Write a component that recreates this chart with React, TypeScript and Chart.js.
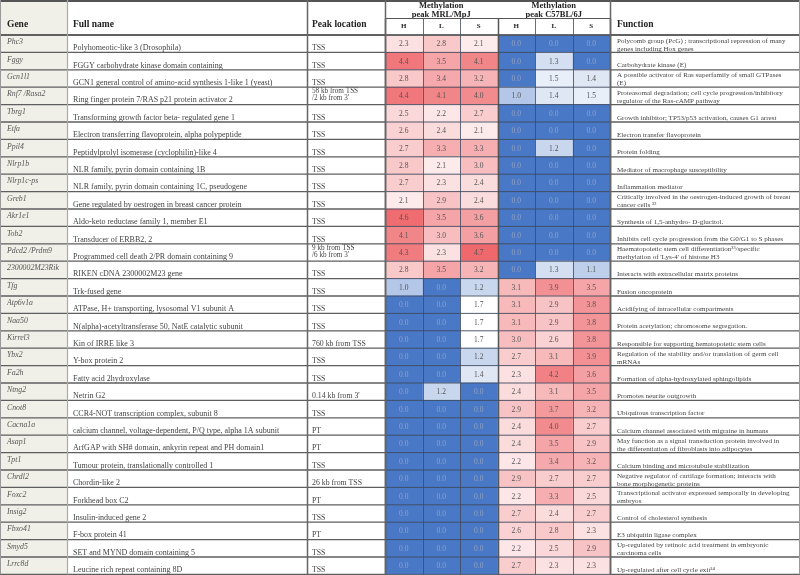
import React, { useEffect, useRef } from "react";
import { Chart, registerables } from "chart.js";

Chart.register(...registerables);

const genes = ["Phc3", "Fggy", "Gcn1l1", "Rnf7 /Rasa2", "Tbrg1", "Etfa", "Ppil4", "Nlrp1b", "Nlrp1c-ps", "Greb1", "Akr1e1", "Tob2", "Pdcd2 /Prdm9", "2300002M23Rik", "Tfg", "Atp6v1a", "Naa50", "Kirrel3", "Ybx2", "Fa2h", "Ntng2", "Cnot8", "Cacna1a", "Asap1", "Tpt1", "Chrdl2", "Foxc2", "Insig2", "Fbxo41", "Smyd5", "Lrrc8d"];

const fullNames = [
  "Polyhomeotic-like 3 (Drosophila)",
  "FGGY carbohydrate kinase domain containing",
  "GCN1 general control of amino-acid synthesis 1-like 1 (yeast)",
  "Ring finger protein 7/RAS p21 protein activator 2",
  "Transforming growth factor beta- regulated gene 1",
  "Electron transferring flavoprotein, alpha polypeptide",
  "Peptidylprolyl isomerase (cyclophilin)-like 4",
  "NLR family, pyrin domain containing 1B",
  "NLR family, pyrin domain containing 1C, pseudogene",
  "Gene regulated by oestrogen in breast cancer protein",
  "Aldo-keto reductase family 1, member E1",
  "Transducer of ERBB2, 2",
  "Programmed cell death 2/PR domain containing 9",
  "RIKEN cDNA 2300002M23 gene",
  "Trk-fused gene",
  "ATPase, H+ transporting, lysosomal V1 subunit A",
  "N(alpha)-acetyltransferase 50, NatE catalytic subunit",
  "Kin of IRRE like 3",
  "Y-box protein 2",
  "Fatty acid 2hydroxylase",
  "Netrin G2",
  "CCR4-NOT transcription complex, subunit 8",
  "calcium channel, voltage-dependent, P/Q type, alpha 1A subunit",
  "ArfGAP with SH# domain, ankyrin repeat and PH domain1",
  "Tumour protein, translationally controlled 1",
  "Chordin-like 2",
  "Forkhead box C2",
  "Insulin-induced gene 2",
  "F-box protein 41",
  "SET and MYND domain containing 5",
  "Leucine rich repeat containing 8D",
];

const peakLocations = [
  "TSS", "TSS", "TSS", "58 kb from TSS\n/2 kb from 3'", "TSS", "TSS", "TSS", "TSS", "TSS", "TSS", "TSS", "TSS",
  "9 kb from TSS\n/6 kb from 3'", "TSS", "TSS", "TSS", "TSS", "760 kb from TSS", "TSS", "TSS", "0.14 kb from 3'",
  "TSS", "PT", "PT", "TSS", "26 kb from TSS", "PT", "TSS", "PT", "TSS", "TSS",
];

const functions = [
  "Polycomb group (PcG) ; transcriptional repression of many\ngenes including Hox genes",
  "Carbohydrate kinase (E)",
  "A possible activator of Ras superfamily of small GTPases\n(E)",
  "Proteasomal degradation; cell cycle progression/inhibitory\nregulator of the Ras-cAMP pathway",
  "Growth inhibitor; TP53/p53 activation, causes G1 arrest",
  "Electron transfer flavoprotein",
  "Protein folding",
  "Mediator of macrophage susceptibility",
  "Inflammation mediator",
  "Critically involved in the oestrogen-induced growth of breast\ncancer cells \u00b3\u00b2",
  "Synthesis of 1,5-anhydro- D-glucitol.",
  "Inhibits cell cycle progression from the G0/G1 to S phases",
  "Haematopoietic stem cell differentiation\u00b3\u00b3/specific\nmethylation of 'Lys-4' of histone H3",
  "Interacts with extracellular matrix proteins",
  "Fusion oncoprotein",
  "Acidifying of intracellular compartments",
  "Protein acetylation; chromosome segregation.",
  "Responsible for supporting hematopoietic stem cells",
  "Regulation of the stability and/or translation of germ cell\nmRNAs",
  "Formation of alpha-hydroxylated sphingolipids",
  "Promotes neurite outgrowth",
  "Ubiquitous transcription factor",
  "Calcium channel associated with migraine in humans",
  "May function as a signal transduction protein involved in\nthe differentiation of fibroblasts into adipocytes",
  "Calcium binding and microtubule stabilization",
  "Negative regulator of cartilage formation; interacts with\nbone morphogenetic proteins",
  "Transcriptional activator expressed temporally in developing\nembryos",
  "Control of cholesterol synthesis",
  "E3 ubiquitin ligase complex",
  "Up-regulated by retinoic acid treatment in embryonic\ncarcinoma cells",
  "Up-regulated after cell cycle exit\u00b3\u2074",
];

const mrlH = [2.3, 4.4, 2.8, 4.4, 2.5, 2.6, 2.7, 2.8, 2.7, 2.1, 4.6, 4.1, 4.3, 2.8, 1.0, 0, 0, 0, 0, 0, 0, 0, 0, 0, 0, 0, 0, 0, 0, 0, 0];
const mrlL = [2.8, 3.5, 3.4, 4.1, 2.2, 2.4, 3.3, 2.1, 2.3, 2.9, 3.5, 3.0, 2.3, 3.5, 0, 0, 0, 0, 0, 0, 1.2, 0, 0, 0, 0, 0, 0, 0, 0, 0, 0];
const mrlS = [2.1, 4.1, 3.2, 4.0, 2.7, 2.1, 3.3, 3.0, 2.4, 2.4, 3.6, 3.6, 4.7, 3.2, 1.2, 1.7, 1.7, 1.7, 1.2, 1.4, 0, 0, 0, 0, 0, 0, 0, 0, 0, 0, 0];
const c57H = [0, 0, 0, 1.0, 0, 0, 0, 0, 0, 0, 0, 0, 0, 0, 3.1, 3.1, 3.1, 3.0, 2.7, 2.3, 2.4, 2.9, 2.4, 2.4, 2.2, 2.9, 2.2, 2.7, 2.6, 2.2, 2.7];
const c57L = [0, 1.3, 1.5, 1.4, 0, 0, 1.2, 0, 0, 0, 0, 0, 0, 1.3, 3.9, 2.9, 2.9, 2.6, 3.1, 4.2, 3.1, 3.7, 4.0, 3.5, 3.4, 2.7, 3.3, 2.4, 2.8, 2.5, 2.3];
const c57S = [0, 0, 1.4, 1.5, 0, 0, 0, 0, 0, 0, 0, 0, 0, 1.1, 3.5, 3.8, 3.8, 3.8, 3.9, 3.6, 3.5, 3.2, 2.7, 2.9, 3.2, 2.7, 2.5, 2.7, 2.3, 2.9, 2.3];

const heatColumns = [mrlH, mrlL, mrlS, c57H, c57L, c57S];
const subLabels = ["H", "L", "S", "H", "L", "S"];
const groupTitles = [["Methylation", "peak MRL/MpJ"], ["Methylation", "peak C57BL/6J"]];
const headers = { gene: "Gene", name: "Full name", peak: "Peak location", func: "Function" };

const FONT = '"Liberation Serif", "Times New Roman", serif';
const X_NAME = 67;
const X_PEAK = 307;
const X_HEAT = 385;
const X_FUNC = 610;
const W = 800;
const H = 575;
const HEADER_H = 35;

const BLUE = [72, 120, 198];
const RED = [238, 104, 108];
const MID = 1.7;
const MAX = 4.7;

function mix(a: number[], b: number[], t: number) {
  const c = a.map((v, i) => Math.round(v + (b[i] - v) * t));
  return `rgb(${c[0]},${c[1]},${c[2]})`;
}
function heatColor(v: number) {
  if (v <= MID) return mix(BLUE, [255, 255, 255], Math.max(0, v / MID));
  return mix([255, 255, 255], RED, Math.min(1, (v - MID) / (MAX - MID)));
}

const tablePlugin = {
  id: "tablePlugin",
  beforeDraw(chart: any) {
    const { ctx, chartArea } = chart;
    ctx.save();
    ctx.fillStyle = "#ffffff";
    ctx.fillRect(0, 0, W, H);
    ctx.fillStyle = "#f1f0e8";
    ctx.fillRect(0, 2, X_NAME, chartArea.bottom - 2);
    ctx.restore();
  },
  afterDatasetsDraw(chart: any) {
    const { ctx, chartArea, scales } = chart;
    const y = scales.y;
    const x = scales.x;
    const n = genes.length;
    const rowH = y.getPixelForValue(1) - y.getPixelForValue(0);
    ctx.save();

    // heat values
    ctx.textAlign = "center";
    ctx.textBaseline = "middle";
    ctx.font = `7.5px ${FONT}`;
    heatColumns.forEach((vals, d) => {
      const meta = chart.getDatasetMeta(d);
      meta.data.forEach((el: any, i: number) => {
        const p = el.getCenterPoint();
        ctx.fillStyle = vals[i] <= 0.5 ? "#93a2c0" : "#555555";
        ctx.fillText(vals[i].toFixed(1), p.x, p.y + 0.5);
      });
    });

    // body text
    for (let i = 0; i < n; i++) {
      const yc = y.getPixelForValue(i);
      const top = yc - rowH / 2;
      const bottom = yc + rowH / 2;
      ctx.textAlign = "left";
      ctx.textBaseline = "middle";
      ctx.fillStyle = "#555";
      ctx.font = `italic 7.8px ${FONT}`;
      ctx.fillText(genes[i], 7, top + 7.2);

      ctx.textBaseline = "alphabetic";
      ctx.fillStyle = "#444";
      ctx.font = `8px ${FONT}`;
      ctx.fillText(fullNames[i], X_NAME + 6, bottom - 2.2);

      const pk = peakLocations[i].split("\n");
      if (pk.length > 1) {
        ctx.font = `7.2px ${FONT}`;
        ctx.textBaseline = "middle";
        ctx.fillText(pk[0], X_PEAK + 5, top + 4);
        ctx.fillText(pk[1], X_PEAK + 5, top + 11);
      } else {
        ctx.font = `7.8px ${FONT}`;
        ctx.textBaseline = "alphabetic";
        ctx.fillText(pk[0], X_PEAK + 5, bottom - 2.2);
      }

      const fn = functions[i].split("\n");
      ctx.font = `7.1px ${FONT}`;
      if (fn.length > 1) {
        ctx.textBaseline = "middle";
        ctx.fillText(fn[0], X_FUNC + 7, top + 5.8);
        ctx.fillText(fn[1], X_FUNC + 7, top + 13.8);
      } else {
        ctx.textBaseline = "alphabetic";
        ctx.fillText(fn[0], X_FUNC + 7, bottom - 2.5);
      }
    }

    // header text
    ctx.fillStyle = "#222";
    ctx.textAlign = "left";
    ctx.textBaseline = "middle";
    ctx.font = `bold 9.5px ${FONT}`;
    ctx.fillText(headers.gene, 7, 25);
    ctx.fillText(headers.name, X_NAME + 6, 25);
    ctx.fillText(headers.peak, X_PEAK + 5, 25);
    ctx.fillText(headers.func, X_FUNC + 7, 25);

    ctx.textAlign = "center";
    ctx.font = `bold 8.5px ${FONT}`;
    groupTitles.forEach((lines, g) => {
      const cx = (x.getPixelForValue(g * 3) + x.getPixelForValue(g * 3 + 3)) / 2;
      ctx.fillText(lines[0], cx, 6);
      ctx.fillText(lines[1], cx, 14.5);
    });
    ctx.font = `bold 7px ${FONT}`;
    subLabels.forEach((s, k) => {
      const cx = (x.getPixelForValue(k) + x.getPixelForValue(k + 1)) / 2;
      ctx.fillText(s, cx, 26.5);
    });

    // grid lines
    const line = (x1: number, y1: number, x2: number, y2: number, color: string, w: number) => {
      ctx.strokeStyle = color;
      ctx.lineWidth = w;
      ctx.beginPath();
      ctx.moveTo(x1, y1);
      ctx.lineTo(x2, y2);
      ctx.stroke();
    };
    const bottomY = chartArea.bottom;
    for (let k = 0; k <= 6; k++) {
      const px = Math.round(x.getPixelForValue(k)) + 0.5;
      line(px, 18.5, px, bottomY, k % 3 === 0 ? "#555" : "#3f4a5e", k % 3 === 0 ? 1.5 : 0.8);
    }
    line(X_HEAT, 18.5, X_FUNC, 18.5, "#555", 1);
    for (let i = 0; i <= n; i++) {
      const yy = y.getPixelForValue(0) - rowH / 2 + i * rowH;
      line(0, yy, X_HEAT, yy, "#5e5e5e", 1.3);
      line(X_HEAT, yy, X_FUNC, yy, "#3f4a5e", 0.9);
      line(X_FUNC, yy, W, yy, "#5e5e5e", 1.3);
    }
    line(0, HEADER_H, W, HEADER_H, "#555", 1.5);
    line(0, 1, W, 1, "#555", 2);
    line(0.5, 0, 0.5, bottomY, "#999", 1);
    line(X_NAME + 0.5, 0, X_NAME + 0.5, bottomY, "#aaa", 1.2);
    line(X_PEAK + 0.5, 0, X_PEAK + 0.5, bottomY, "#666", 1.5);
    line(X_HEAT + 0.5, 0, X_HEAT + 0.5, bottomY, "#666", 1.5);
    line(X_FUNC + 0.5, 0, X_FUNC + 0.5, bottomY, "#666", 1.5);
    line(W - 0.5, 0, W - 0.5, bottomY, "#999", 1);
    ctx.restore();
  },
};

export default function App() {
  const ref = useRef<HTMLCanvasElement | null>(null);
  useEffect(() => {
    document.body.style.margin = "0";
    const canvas = ref.current;
    if (!canvas) return;
    const chart = new Chart(canvas, {
      type: "bar",
      data: {
        labels: genes,
        datasets: heatColumns.map((vals, c) => ({
          label: subLabels[c],
          data: vals.map(() => [c, c + 1]) as any,
          backgroundColor: vals.map(heatColor),
          borderWidth: 0,
          categoryPercentage: 1,
          barPercentage: 1,
          grouped: false,
        })),
      },
      options: {
        indexAxis: "y",
        responsive: false,
        animation: false,
        layout: { padding: { left: X_HEAT, right: W - X_FUNC, top: HEADER_H, bottom: 0.6 } },
        plugins: { legend: { display: false }, tooltip: { enabled: false } },
        scales: {
          x: { type: "linear", min: 0, max: 6, display: false },
          y: { type: "category", display: false, offset: true },
        },
      },
      plugins: [tablePlugin],
    } as any);
    return () => chart.destroy();
  }, []);
  return <canvas ref={ref} width={W} height={H} style={{ display: "block", width: W, height: H }} />;
}
